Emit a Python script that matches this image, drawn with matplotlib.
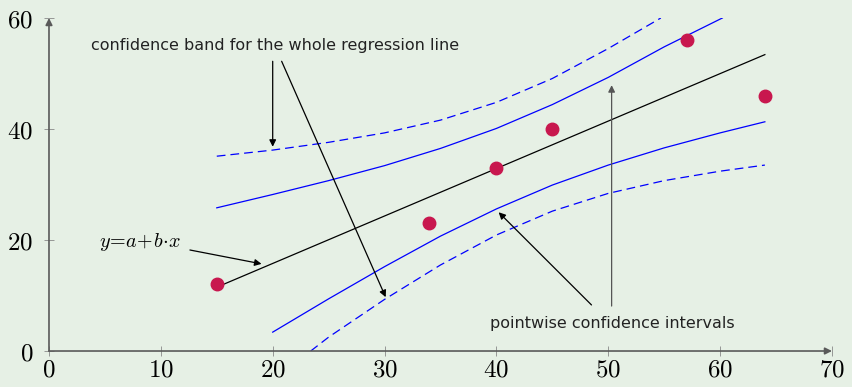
import matplotlib
matplotlib.use("Agg")
import matplotlib.pyplot as plt

plt.rcParams['mathtext.fontset'] = 'cm'

# data points
x_pts = [15, 34, 40, 45, 57, 64]
y_pts = [12, 23, 33, 40, 56, 46]

# fitted regression line (end points)
line_x = [15, 64]
line_y = [11.5, 53.4]

# pointwise confidence intervals (solid)
pw_up_x = [15, 20, 25, 30, 35, 40, 45, 50, 55, 60.2]
pw_up_y = [25.8, 28.2, 30.7, 33.4, 36.5, 40.1, 44.4, 49.3, 54.8, 60.0]
pw_lo_x = [20, 25, 30, 35, 40, 45, 50, 55, 60, 64]
pw_lo_y = [3.4, 9.4, 15.2, 20.7, 25.6, 29.9, 33.5, 36.6, 39.3, 41.3]

# band for the whole regression line (dashed)
wb_up_x = [15, 20, 25, 30, 35, 40, 45, 50, 54.7]
wb_up_y = [35.1, 36.2, 37.6, 39.3, 41.6, 44.8, 49.1, 54.5, 60.0]
wb_lo_x = [23.4, 25, 30, 35, 40, 45, 50, 55, 60, 64]
wb_lo_y = [0.0, 2.5, 9.3, 15.5, 20.9, 25.2, 28.4, 30.7, 32.4, 33.5]

x_ticks = [0, 10, 20, 30, 40, 50, 60, 70]
y_ticks = [0, 20, 40, 60]

bg = '#e6f0e5'
fig = plt.figure(figsize=(8.52, 3.87), dpi=100, facecolor=bg)
ax = fig.add_axes([0.0575, 0.093, 0.919, 0.8605])
ax.set_facecolor(bg)
ax.set_xlim(0, 70)
ax.set_ylim(0, 60)
for s in ax.spines.values():
    s.set_visible(False)

# axes with arrows
axis_col = '#5a5a5a'
ap = dict(arrowstyle='-|>', color='black', lw=1.2, mutation_scale=10, shrinkA=0, shrinkB=0)
ax.annotate('', xy=(70, 0), xytext=(0, 0), arrowprops=dict(ap, color=axis_col),
            annotation_clip=False)
ax.annotate('', xy=(0, 60), xytext=(0, 0), arrowprops=dict(ap, color=axis_col),
            annotation_clip=False)

ax.set_xticks(x_ticks)
ax.set_yticks(y_ticks)
ax.set_xticklabels([f'${t}$' for t in x_ticks])
ax.set_yticklabels([f'${t}$' for t in y_ticks])
ax.tick_params(direction='inout', length=7, width=0.6, color='#888888',
               labelsize=18, pad=1)
ax.tick_params(axis='y', pad=8)

# bands
ax.plot(wb_up_x, wb_up_y, color='#0000ff', lw=0.9, dashes=(7, 4))
ax.plot(wb_lo_x, wb_lo_y, color='#0000ff', lw=0.9, dashes=(7, 4))
ax.plot(pw_up_x, pw_up_y, color='#0000ff', lw=0.9)
ax.plot(pw_lo_x, pw_lo_y, color='#0000ff', lw=0.9)
ax.plot(line_x, line_y, color='black', lw=0.9)
ax.plot(x_pts, y_pts, 'o', color='#c8174e', ms=9, zorder=5)

# annotations
arr = dict(arrowstyle='-|>', color='black', lw=0.9, mutation_scale=10, shrinkA=0, shrinkB=0)
ax.text(20.2, 55.1, 'confidence band for the whole regression line',
        ha='center', va='center', fontsize=11.5, family='DejaVu Sans', color='#222222')
ax.annotate('', xy=(20.0, 36.8), xytext=(20.0, 52.2), arrowprops=arr)
ax.annotate('', xy=(30.1, 9.7), xytext=(20.8, 52.2), arrowprops=arr)

ax.text(8.1, 19.6, r'$y\!=\!a\!+\!b\!\cdot\! x$', ha='center', va='center', fontsize=14.5)
ax.annotate('', xy=(19.0, 15.7), xytext=(12.6, 18.2), arrowprops=arr)

ax.text(50.4, 5.0, 'pointwise confidence intervals',
        ha='center', va='center', fontsize=11.5, family='DejaVu Sans', color='#222222')
ax.annotate('', xy=(40.2, 25.0), xytext=(48.5, 8.3), arrowprops=arr)
ax.annotate('', xy=(50.3, 47.9), xytext=(50.3, 8.1), arrowprops=dict(arr, color='#555555'))

fig.savefig('out.png', dpi=100, facecolor=bg)
